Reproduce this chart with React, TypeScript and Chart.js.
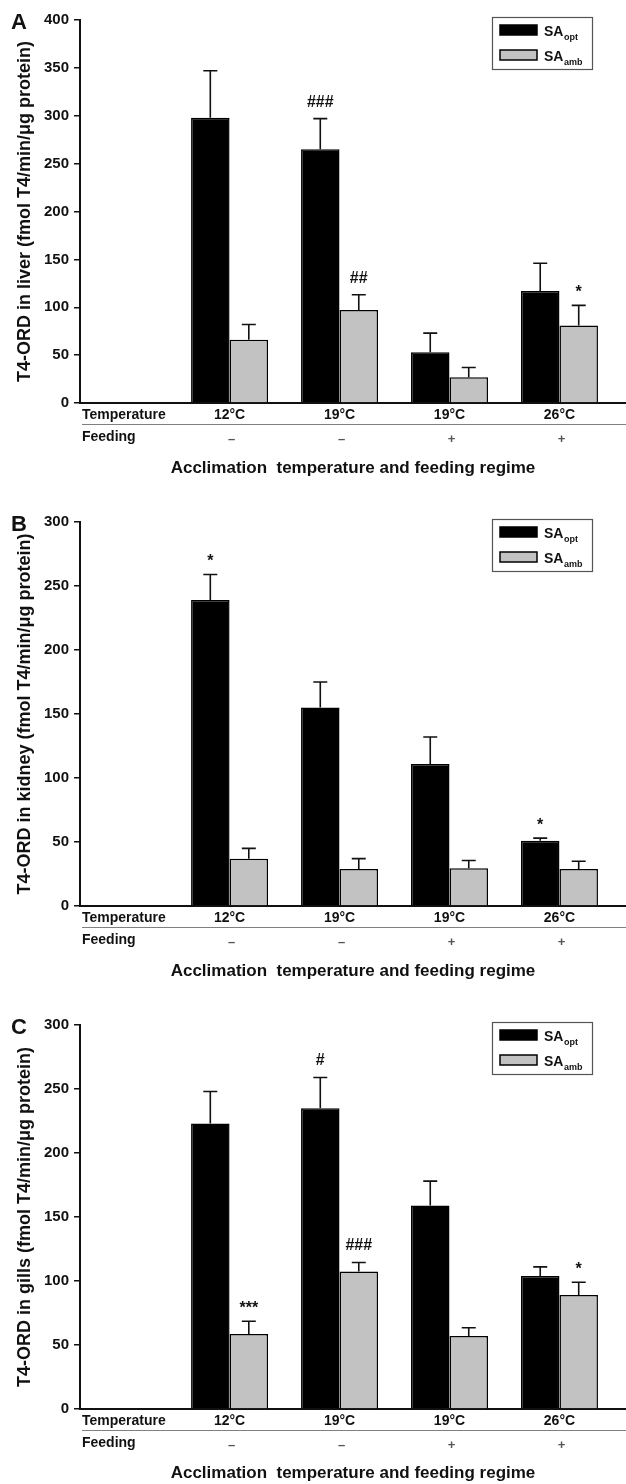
import React, { useEffect, useRef } from "react";
import { Chart, registerables } from "chart.js";

Chart.register(...registerables);

// ---------- data ----------
const temperatures = ["12°C", "19°C", "19°C", "26°C"];
const feedingRegime = ["–", "–", "+", "+"];
const seriesMain = ["SA", "SA"];
const seriesSub = ["opt", "amb"];
const seriesColors = ["#000000", "#c2c2c2"];
const xAxisTitle = "Acclimation  temperature and feeding regime";
const rowLabels = ["Temperature", "Feeding"];

// Panel A – liver
const liverOpt = [298, 265, 53, 117];
const liverOptErr = [49, 32, 20, 29];
const liverAmb = [66, 97, 27, 81];
const liverAmbErr = [16, 16, 10, 21];
const liverOptMarks = ["", "###", "", ""];
const liverAmbMarks = ["", "##", "", "*"];

// Panel B – kidney
const kidneyOpt = [239, 155, 111, 51];
const kidneyOptErr = [20, 20, 21, 2];
const kidneyAmb = [37, 29, 29.5, 29];
const kidneyAmbErr = [8, 8, 6, 6];
const kidneyOptMarks = ["*", "", "", "*"];
const kidneyAmbMarks = ["", "", "", ""];

// Panel C – gills
const gillsOpt = [223, 235, 159, 104];
const gillsOptErr = [25, 24, 19, 7];
const gillsAmb = [58.5, 107.5, 57, 89];
const gillsAmbErr = [10, 7, 6.5, 10];
const gillsOptMarks = ["", "#", "", ""];
const gillsAmbMarks = ["***", "###", "", "*"];

const FONT = "'Liberation Sans', Arial, Helvetica, sans-serif";
const INK = "#111111";

type PanelCfg = {
  letter: string;
  yTitle: string;
  yMax: number;
  height: number;
  plotTop: number;
  opt: number[];
  optErr: number[];
  amb: number[];
  ambErr: number[];
  optMarks: string[];
  ambMarks: string[];
};

const panels: PanelCfg[] = [
  {
    letter: "A",
    yTitle: "T4-ORD in liver (fmol T4/min/μg protein)",
    yMax: 400,
    height: 503,
    plotTop: 20,
    opt: liverOpt,
    optErr: liverOptErr,
    amb: liverAmb,
    ambErr: liverAmbErr,
    optMarks: liverOptMarks,
    ambMarks: liverAmbMarks,
  },
  {
    letter: "B",
    yTitle: "T4-ORD in kidney (fmol T4/min/μg protein)",
    yMax: 300,
    height: 503,
    plotTop: 19,
    opt: kidneyOpt,
    optErr: kidneyOptErr,
    amb: kidneyAmb,
    ambErr: kidneyAmbErr,
    optMarks: kidneyOptMarks,
    ambMarks: kidneyAmbMarks,
  },
  {
    letter: "C",
    yTitle: "T4-ORD in gills (fmol T4/min/μg protein)",
    yMax: 300,
    height: 478,
    plotTop: 19,
    opt: gillsOpt,
    optErr: gillsOptErr,
    amb: gillsAmb,
    ambErr: gillsAmbErr,
    optMarks: gillsOptMarks,
    ambMarks: gillsAmbMarks,
  },
];

const WIDTH = 626;
const AXIS_LEFT = 80;
const PLOT_BOTTOM = 403;
const TITLE_CENTER = 468;

function Panel({ cfg }: { cfg: PanelCfg }) {
  const ref = useRef<HTMLCanvasElement | null>(null);

  useEffect(() => {
    if (!ref.current) return;
    const H = cfg.height;
    const titleFontSize = 17;
    const titleLH = titleFontSize * 1.2;

    const annotPlugin = {
      id: "annot" + cfg.letter,
      afterDatasetsDraw(chart: any) {
        const ctx = chart.ctx as CanvasRenderingContext2D;
        const ys = chart.scales.y;
        const series = [
          { vals: cfg.opt, errs: cfg.optErr, marks: cfg.optMarks },
          { vals: cfg.amb, errs: cfg.ambErr, marks: cfg.ambMarks },
        ];
        ctx.save();
        series.forEach((s, di) => {
          const meta = chart.getDatasetMeta(di);
          meta.data.forEach((bar: any, j: number) => {
            const topPx = ys.getPixelForValue(s.vals[j] + s.errs[j]);
            ctx.strokeStyle = INK;
            ctx.lineWidth = 1.6;
            ctx.beginPath();
            ctx.moveTo(bar.x, bar.y);
            ctx.lineTo(bar.x, topPx);
            ctx.moveTo(bar.x - 7, topPx);
            ctx.lineTo(bar.x + 7, topPx);
            ctx.stroke();
            const m = s.marks[j];
            if (m) {
              ctx.fillStyle = INK;
              ctx.font = `bold 16px ${FONT}`;
              ctx.textAlign = "center";
              ctx.textBaseline = "alphabetic";
              const off = m.startsWith("#") ? 12 : 8;
              ctx.fillText(m, bar.x, topPx - off);
            }
          });
        });
        ctx.restore();
      },
      afterDraw(chart: any) {
        const ctx = chart.ctx as CanvasRenderingContext2D;
        const xs = chart.scales.x;
        const top = chart.chartArea.top;
        const bottom = chart.chartArea.bottom;
        ctx.save();
        // panel letter
        ctx.fillStyle = INK;
        ctx.font = `bold 22px ${FONT}`;
        ctx.textAlign = "left";
        ctx.textBaseline = "middle";
        ctx.fillText(cfg.letter, 11, top + 3);

        // row labels
        ctx.font = `bold 14px ${FONT}`;
        ctx.fillText(rowLabels[0], 82, bottom + 12);
        ctx.fillText(rowLabels[1], 82, bottom + 34);
        ctx.strokeStyle = "#808080";
        ctx.lineWidth = 1;
        ctx.beginPath();
        ctx.moveTo(82, bottom + 21.5);
        ctx.lineTo(WIDTH, bottom + 21.5);
        ctx.stroke();
        ctx.fillStyle = "#555555";
        ctx.font = `bold 13px ${FONT}`;
        ctx.textAlign = "center";
        feedingRegime.forEach((f, i) => {
          ctx.fillText(f, xs.getPixelForValue(i + 1) + 2, bottom + 36);
        });

        // legend
        const lx = 492;
        const ly = top - 3;
        ctx.strokeStyle = "#555555";
        ctx.lineWidth = 1.2;
        ctx.strokeRect(lx + 0.5, ly + 0.5, 100, 52);
        for (let i = 0; i < 2; i++) {
          const sy = top + 5 + i * 25;
          ctx.fillStyle = seriesColors[i];
          ctx.fillRect(500, sy, 37, 10);
          ctx.strokeStyle = "#000";
          ctx.lineWidth = 1.5;
          ctx.strokeRect(500, sy, 37, 10);
          ctx.fillStyle = INK;
          ctx.textAlign = "left";
          ctx.textBaseline = "alphabetic";
          ctx.font = `bold 14px ${FONT}`;
          ctx.fillText(seriesMain[i], 544, sy + 11);
          const w = ctx.measureText(seriesMain[i]).width;
          ctx.font = `bold 9px ${FONT}`;
          ctx.fillText(seriesSub[i], 544 + w + 0.5, sy + 15);
        }
        ctx.restore();
      },
    };

    const chart = new Chart(ref.current, {
      type: "bar",
      data: {
        datasets: [0, 1].map((di) => {
          const vals = di === 0 ? cfg.opt : cfg.amb;
          return {
            label: seriesMain[di] + seriesSub[di],
            data: vals.map((v, i) => ({ x: i + 1, y: v })),
            backgroundColor: seriesColors[di],
            borderColor: "#000000",
            borderWidth: 1.5,
            borderSkipped: "bottom",
            categoryPercentage: 0.7,
            barPercentage: 1,
          };
        }),
      },
      options: {
        responsive: false,
        animation: false,
        devicePixelRatio: 1,
        events: [],
        layout: { padding: { top: cfg.plotTop, left: 0, right: 0, bottom: 0 } },
        plugins: {
          legend: { display: false },
          tooltip: { enabled: false },
        },
        scales: {
          x: {
            type: "linear",
            min: -0.36,
            max: 4.605,
            offset: false,
            grid: { display: false, drawTicks: false, offset: false },
            border: { display: true, color: INK, width: 2 },
            ticks: {
              font: { family: FONT, size: 14, weight: "bold" },
              color: INK,
              padding: 4,
              autoSkip: false,
              maxRotation: 0,
              callback: (v: any) => temperatures[Math.round(v) - 1] ?? "",
            },
            afterBuildTicks: (s: any) => {
              s.ticks = temperatures.map((_, i) => ({ value: i + 1 }));
            },
            afterFit: (s: any) => {
              s.height = H - PLOT_BOTTOM;
              s.paddingLeft = 0;
              s.paddingRight = 0;
            },
            title: {
              display: true,
              text: xAxisTitle,
              color: INK,
              font: { family: FONT, size: titleFontSize, weight: "bold" },
              padding: { top: 0, bottom: Math.max(0, H - TITLE_CENTER - titleLH / 2) },
            },
          },
          y: {
            min: 0,
            max: cfg.yMax,
            ticks: {
              stepSize: 50,
              font: { family: FONT, size: 15, weight: "bold" },
              color: INK,
              padding: 5,
            },
            grid: {
              drawOnChartArea: false,
              drawTicks: true,
              tickLength: 6,
              color: INK,
              lineWidth: 1.5,
            },
            border: { display: true, color: INK, width: 2 },
            title: {
              display: true,
              text: cfg.yTitle,
              color: INK,
              font: { family: FONT, size: 18, weight: "bold" },
              padding: { top: 14, bottom: 0 },
            },
            afterFit: (s: any) => {
              s.width = AXIS_LEFT;
              s.paddingTop = 0;
              s.paddingBottom = 0;
            },
          },
        },
      } as any,
      plugins: [annotPlugin],
    });
    return () => chart.destroy();
  }, [cfg]);

  return (
    <div style={{ width: WIDTH, height: cfg.height }}>
      <canvas ref={ref} width={WIDTH} height={cfg.height} style={{ display: "block" }} />
    </div>
  );
}

export default function App() {
  return (
    <div style={{ position: "absolute", left: 0, top: 0, width: WIDTH, background: "#fff" }}>
      {panels.map((p) => (
        <Panel key={p.letter} cfg={p} />
      ))}
    </div>
  );
}
